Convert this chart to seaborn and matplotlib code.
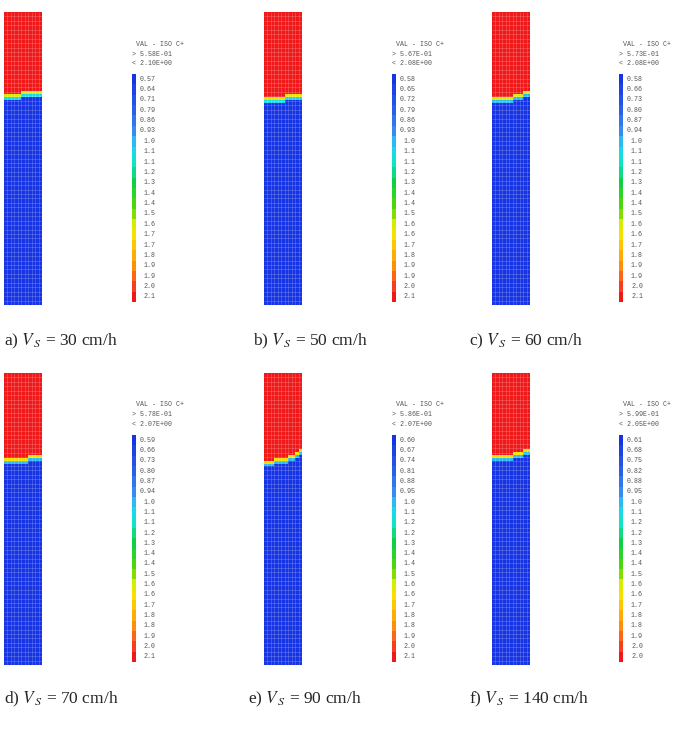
import numpy as np
import matplotlib
matplotlib.use("Agg")
import matplotlib.pyplot as plt
from matplotlib.colors import LinearSegmentedColormap
import seaborn as sns

sns.set_style("white")
plt.rcParams["mathtext.fontset"] = "stix"

# ---- data ----
panel_tags = ["a)", "b)", "c)", "d)", "e)", "f)"]
velocities = [30, 50, 60, 70, 90, 140]
val_min = [0.558, 0.567, 0.573, 0.578, 0.586, 0.599]
val_max = [2.10, 2.08, 2.08, 2.07, 2.07, 2.05]
header_gt = ["5.58E-01", "5.67E-01", "5.73E-01", "5.78E-01", "5.86E-01", "5.99E-01"]
header_lt = ["2.10E+00", "2.08E+00", "2.08E+00", "2.07E+00", "2.07E+00", "2.05E+00"]
top_value = [2.10, 2.08, 2.08, 2.06, 2.01, 1.99]

# front row (out of 100 rows from the top) in each of the 11 mesh columns
front_a = [28, 28, 28, 28, 28, 27, 27, 27, 27, 27, 27]
front_b = [29, 29, 29, 29, 29, 29, 28, 28, 28, 28, 28]
front_c = [29, 29, 29, 29, 29, 29, 28, 28, 28, 27, 27]
front_d = [29, 29, 29, 29, 29, 29, 29, 28, 28, 28, 28]
front_e = [30, 30, 30, 29, 29, 29, 29, 28, 28, 27, 26]
front_f = [28, 28, 28, 28, 28, 28, 27, 27, 27, 26, 26]
fronts = [front_a, front_b, front_c, front_d, front_e, front_f]
band_values = [1.6, 1.05]

levels_a = ["0.57", "0.64", "0.71", "0.79", "0.86", "0.93", "1.0", "1.1", "1.1", "1.2", "1.3",
            "1.4", "1.4", "1.5", "1.6", "1.7", "1.7", "1.8", "1.9", "1.9", "2.0", "2.1"]
levels_b = ["0.58", "0.65", "0.72", "0.79", "0.86", "0.93", "1.0", "1.1", "1.1", "1.2", "1.3",
            "1.4", "1.4", "1.5", "1.6", "1.6", "1.7", "1.8", "1.9", "1.9", "2.0", "2.1"]
levels_c = ["0.58", "0.66", "0.73", "0.80", "0.87", "0.94", "1.0", "1.1", "1.1", "1.2", "1.3",
            "1.4", "1.4", "1.5", "1.6", "1.6", "1.7", "1.8", "1.9", "1.9", "2.0", "2.1"]
levels_d = ["0.59", "0.66", "0.73", "0.80", "0.87", "0.94", "1.0", "1.1", "1.1", "1.2", "1.3",
            "1.4", "1.4", "1.5", "1.6", "1.6", "1.7", "1.8", "1.8", "1.9", "2.0", "2.1"]
levels_e = ["0.60", "0.67", "0.74", "0.81", "0.88", "0.95", "1.0", "1.1", "1.2", "1.2", "1.3",
            "1.4", "1.4", "1.5", "1.6", "1.6", "1.7", "1.8", "1.8", "1.9", "2.0", "2.1"]
levels_f = ["0.61", "0.68", "0.75", "0.82", "0.88", "0.95", "1.0", "1.1", "1.2", "1.2", "1.3",
            "1.4", "1.4", "1.5", "1.6", "1.6", "1.7", "1.8", "1.8", "1.9", "2.0", "2.0"]
levels = [levels_a, levels_b, levels_c, levels_d, levels_e, levels_f]

n_rows, n_cols = 100, 11
mesh_rows = 66
n_levels = 22

cmap = LinearSegmentedColormap.from_list("iso", [
    (0.00, "#1634e4"), (0.14, "#2a5ee8"), (0.24, "#3a8cf0"), (0.30, "#28c8f0"),
    (0.36, "#10e8e0"), (0.48, "#10d040"), (0.60, "#60d800"), (0.68, "#f0f000"),
    (0.78, "#ffc000"), (0.86, "#ff8c10"), (0.95, "#f84020"), (1.00, "#f01818")]).resampled(n_levels)


def build_field(front, top, bottom):
    field = np.full((n_rows, n_cols), bottom)
    for j, r in enumerate(front):
        field[:r, j] = top
        field[r, j] = band_values[0]
        field[r + 1, j] = band_values[1]
    return field


W, H = 691, 741
fig = plt.figure(figsize=(W / 100, H / 100), dpi=100)


def px_axes(left, top, width, height):
    return fig.add_axes([left / W, 1 - (top + height) / H, width / W, height / H])


col_left = [4, 264, 492]
cbar_left = [132, 392, 619]
cap_left = [[4, 253, 469], [4, 248, 469]]
col_top, col_bot = [12, 373], [305, 665]
cb_top, cb_bot = [74, 435], [302, 662]
cap_base = [345, 703]

mono = dict(family="Liberation Mono", fontsize=4.8, color="#555555")
mesh_kw = dict(color="white", alpha=0.3, lw=0.4)

for k in range(6):
    row, col = divmod(k, 3)

    ax = px_axes(col_left[col], col_top[row], 38, col_bot[row] - col_top[row])
    field = build_field(fronts[k], top_value[k], val_min[k])
    sns.heatmap(field, ax=ax, cmap=cmap, vmin=val_min[k], vmax=val_max[k], cbar=False,
                xticklabels=False, yticklabels=False)
    # finite-element mesh
    ax.hlines(np.linspace(0, n_rows, mesh_rows + 1)[1:-1], 0, n_cols, **mesh_kw)
    ax.vlines(np.arange(1, n_cols), 0, n_rows, **mesh_kw)

    cax = px_axes(cbar_left[col], cb_top[row], 4, cb_bot[row] - cb_top[row])
    sns.heatmap(np.arange(n_levels).reshape(-1, 1), ax=cax, cmap=cmap,
                vmin=-0.5, vmax=n_levels - 0.5, cbar=False,
                xticklabels=False, yticklabels=False)
    for i, lab in enumerate(levels[k]):
        cax.annotate(lab, xy=(1, i + 0.5), xycoords=("axes fraction", "data"),
                     xytext=(14.4, 0), textcoords="offset points",
                     ha="right", va="center", **mono)
    for txt, dy in [(" VAL - ISO C+", 21.6), ("> " + header_gt[k], 14.4), ("< " + header_lt[k], 7.9)]:
        cax.annotate(txt, xy=(0, 1), xycoords="axes fraction", xytext=(0, dy),
                     textcoords="offset points", ha="left", va="center", **mono)

    fig.text(cap_left[row][col] / W, 1 - cap_base[row] / H,
             f"{panel_tags[k]} $V_{{\\,S}}$ = {velocities[k]} cm/h",
             family="Liberation Serif", fontsize=12.5, va="baseline", ha="left")

fig.savefig("out.png", dpi=100)
